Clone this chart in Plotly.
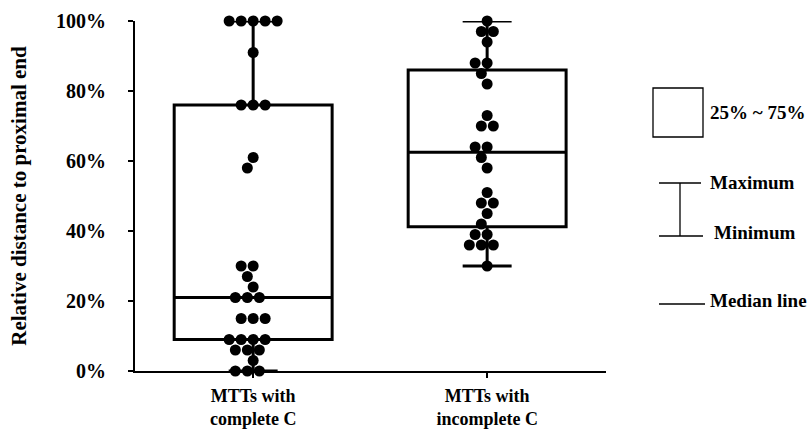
import numpy as np
import plotly.graph_objects as go

# ---------------- data ----------------
categories = ["MTTs with<br>complete C", "MTTs with<br>incomplete C"]

complete_c = [1.00, 1.00, 1.00, 1.00, 1.00, 0.91, 0.76, 0.76, 0.76, 0.61, 0.58,
              0.30, 0.30, 0.27, 0.24, 0.21, 0.21, 0.21, 0.15, 0.15, 0.15,
              0.09, 0.09, 0.09, 0.09, 0.06, 0.06, 0.06, 0.03, 0.00, 0.00, 0.00]
incomplete_c = [1.00, 0.97, 0.97, 0.94, 0.88, 0.88, 0.85, 0.82, 0.73, 0.70, 0.70,
                0.64, 0.64, 0.61, 0.58, 0.51, 0.48, 0.48, 0.45, 0.42, 0.39, 0.39,
                0.36, 0.36, 0.36, 0.30]

# box statistics (min, q1, median, q3, max)
box_stats = {
    "complete": dict(lowerfence=0.00, q1=0.09, median=0.21, q3=0.76, upperfence=1.00),
    "incomplete": dict(lowerfence=0.30, q1=0.412, median=0.625, q3=0.86, upperfence=1.00),
}

y_ticks = [0, 0.2, 0.4, 0.6, 0.8, 1.0]
legend_labels = ["25% ~ 75%", "Maximum", "Minimum", "Median line"]

# ---------------- layout constants ----------------
W, H = 812, 430
PL, PR, PT, PB = 135, 606, 21, 371          # plot area in pixels
XR = [-0.505, 1.508]
PX_PER_X = (PR - PL) / (XR[1] - XR[0])
PX_PER_Y = (PB - PT) / 1.0
DOT = 12.0
FONT = "Liberation Serif"


def swarm(values):
    """Beeswarm offsets (in x data units) so dots do not overlap."""
    order = np.argsort(-np.asarray(values), kind="stable")
    placed = []
    offs = np.zeros(len(values))
    for i in order:
        y = values[i] * PX_PER_Y
        intervals = []
        for (px_, py_) in placed:
            dy = abs(py_ - y)
            if dy < DOT:
                dx = np.sqrt(DOT ** 2 - dy ** 2)
                intervals.append((px_ - dx, px_ + dx))
        cands = [0.0] + [a for a, b in intervals] + [b for a, b in intervals]
        cands = sorted(cands, key=lambda c: (round(abs(c), 6), c))
        for c in cands:
            if all(not (a + 1e-6 < c < b - 1e-6) for a, b in intervals):
                break
        placed.append((c, y))
        offs[i] = c / PX_PER_X
    return offs


fig = go.Figure()

for xi, key in enumerate(["complete", "incomplete"]):
    s = box_stats[key]
    fig.add_trace(go.Box(
        x=[xi], q1=[s["q1"]], median=[s["median"]], q3=[s["q3"]],
        lowerfence=[s["lowerfence"]], upperfence=[s["upperfence"]],
        width=0.675, whiskerwidth=0.31, boxpoints=False,
        fillcolor="rgba(0,0,0,0)", line=dict(color="black", width=3),
        showlegend=False, hoverinfo="skip",
    ))

for xi, vals in enumerate([complete_c, incomplete_c]):
    offs = swarm(vals)
    fig.add_trace(go.Scatter(
        x=xi + offs, y=vals, mode="markers",
        marker=dict(color="black", size=11, line=dict(width=0)),
        cliponaxis=False, showlegend=False,
    ))


def px(xp):
    return (xp - PL) / (PR - PL)


def py(yp):
    return (PB - yp) / (PB - PT)


shapes = [
    dict(type="rect", x0=px(653), x1=px(703), y0=py(88), y1=py(137)),
    dict(type="line", x0=px(659), x1=px(701), y0=py(183), y1=py(183)),
    dict(type="line", x0=px(659), x1=px(703), y0=py(236), y1=py(236)),
    dict(type="line", x0=px(680), x1=px(680), y0=py(183), y1=py(236)),
    dict(type="line", x0=px(659), x1=px(705), y0=py(304), y1=py(304)),
]
for sh in shapes:
    sh.update(xref="paper", yref="paper", line=dict(color="black", width=1.3))
fig.update_layout(shapes=shapes)

ann_pos = [(708, 112), (708, 182), (712, 233), (708, 300)]
for txt, (ax, ay) in zip(legend_labels, ann_pos):
    fig.add_annotation(text=txt, x=px(ax), y=py(ay), xref="paper", yref="paper",
                       xanchor="left", yanchor="middle", showarrow=False,
                       font=dict(family=FONT, size=19, color="black", weight="bold"))

fig.update_layout(
    width=W, height=H,
    margin=dict(l=PL, r=W - PR, t=PT, b=H - PB, autoexpand=False),
    plot_bgcolor="white", paper_bgcolor="white",
    font=dict(family=FONT, size=18, color="black", weight="bold"),
    xaxis=dict(range=XR, tickvals=[0, 1], ticktext=categories,
               showline=True, linewidth=2, linecolor="black",
               ticks="outside", ticklen=5, tickwidth=2, tickcolor="black",
               showgrid=False, zeroline=False, ticklabelstandoff=2,
               tickfont=dict(family=FONT, size=18, weight="bold")),
    yaxis=dict(range=[0, 1], tickvals=y_ticks, tickformat=".0%",
               showline=True, linewidth=2, linecolor="black",
               ticks="outside", ticklen=5, tickwidth=2, tickcolor="black",
               showgrid=False, zeroline=False, ticklabelstandoff=18,
               tickfont=dict(family=FONT, size=20, weight="bold"),
               title=dict(text="Relative distance to proximal end", standoff=24,
                          font=dict(family=FONT, size=21, weight="bold"))),
)

fig.write_html(
    "out.html",
    config={"displayModeBar": False},
    post_script="document.body.style.margin='0';document.body.style.overflow='hidden';",
)
